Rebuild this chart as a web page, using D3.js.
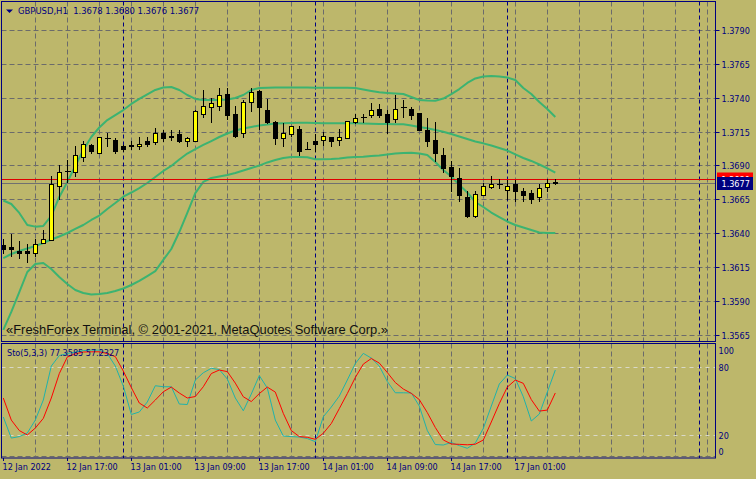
<!DOCTYPE html>
<html><head><meta charset="utf-8">
<script src="https://cdn.jsdelivr.net/npm/d3@7/dist/d3.min.js"></script>
<style>
html,body{margin:0;padding:0;background:#BDB76B;}
svg{display:block;}
text{font-family:"DejaVu Sans Condensed","DejaVu Sans",sans-serif;font-stretch:condensed;}
</style></head><body>
<svg id="chart" width="756" height="479"></svg>
<script>
// ---------------- DATA ----------------
const symbolTitle = "GBPUSD,H1";
const lastOHLC = [1.3678, 1.3680, 1.3676, 1.3677];
const bidPrice = 1.3677;
const askPrice = 1.3680;

const openP = [
1.3631,1.3630,1.3627,1.3627,1.3625,1.3633,1.3635,1.3675,1.3686,1.3685,
1.3696,1.3705,1.3699,1.3710,1.3709,1.3704,1.3705,1.3704,1.3708,1.3707,
1.3714,1.3712,1.3713,1.3708,1.3708,1.3728,1.3733,1.3734,1.3743,1.3728,
1.3714,1.3737,1.3745,1.3731,1.3722,1.3710,1.3713,1.3717,1.3702,1.3708,
1.3709,1.3711,1.3709,1.3710,1.3722,1.3726,1.3727,1.3732,1.3728,1.3724,
1.3733,1.3732,1.3729,1.3716,1.3709,1.3698,1.3689,1.3681,1.3667,1.3653,
1.3668,1.3674,1.3676,1.3672,1.3676,1.3671,1.3670,1.3667,1.3674,1.3678];
const highP = [
1.3636,1.3639,1.3634,1.3632,1.3636,1.3642,1.3682,1.3690,1.3694,1.3704,
1.3708,1.3706,1.3711,1.3714,1.3710,1.3705,1.3708,1.3711,1.3711,1.3718,
1.3716,1.3716,1.3716,1.3711,1.3731,1.3746,1.3740,1.3747,1.3747,1.3734,
1.3738,1.3747,1.3746,1.3739,1.3723,1.3721,1.3719,1.3719,1.3707,1.3713,
1.3715,1.3711,1.3717,1.3723,1.3728,1.3728,1.3736,1.3735,1.3731,1.3742,
1.3738,1.3733,1.3729,1.3725,1.3722,1.3703,1.3693,1.3688,1.3671,1.3671,
1.3677,1.3682,1.3680,1.3679,1.3679,1.3673,1.3672,1.3676,1.3680,1.3680];
const lowP = [
1.3625,1.3623,1.3622,1.3619,1.3623,1.3633,1.3635,1.3665,1.3678,1.3682,
1.3693,1.3699,1.3699,1.3704,1.3699,1.3701,1.3702,1.3702,1.3704,1.3706,
1.3708,1.3709,1.3707,1.3704,1.3708,1.3726,1.3722,1.3731,1.3724,1.3711,
1.3711,1.3730,1.3717,1.3721,1.3706,1.3704,1.3712,1.3698,1.3702,1.3701,
1.3705,1.3704,1.3705,1.3710,1.3721,1.3722,1.3726,1.3726,1.3714,1.3722,
1.3726,1.3724,1.3716,1.3704,1.3693,1.3685,1.3671,1.3664,1.3652,1.3652,
1.3668,1.3673,1.3673,1.3665,1.3664,1.3664,1.3662,1.3664,1.3671,1.3676];
const closeP = [
1.3628,1.3628,1.3625,1.3625,1.3632,1.3636,1.3676,1.3685,1.3686,1.3698,
1.3706,1.3701,1.3711,1.3710,1.3701,1.3702,1.3704,1.3706,1.3706,1.3714,
1.3710,1.3711,1.3708,1.3710,1.3730,1.3734,1.3736,1.3742,1.3727,1.3712,
1.3737,1.3744,1.3733,1.3722,1.3710,1.3714,1.3719,1.3701,1.3702,1.3706,
1.3712,1.3708,1.3711,1.3723,1.3725,1.3726,1.3731,1.3727,1.3722,1.3732,
1.3733,1.3727,1.3716,1.3708,1.3699,1.3688,1.3682,1.3668,1.3653,1.3669,
1.3675,1.3676,1.3676,1.3675,1.3671,1.3668,1.3665,1.3673,1.3677,1.3677];

const bbUpper = [
1.36641,1.36615,1.36549,1.36460,1.36448,1.36453,1.36527,1.36667,1.36778,1.36896,
1.37014,1.37110,1.37180,1.37235,1.37272,1.37309,1.37354,1.37391,1.37424,1.37457,
1.37475,1.37479,1.37457,1.37420,1.37391,1.37383,1.37383,1.37383,1.37387,1.37398,
1.37420,1.37457,1.37472,1.37474,1.37475,1.37475,1.37476,1.37476,1.37475,1.37474,
1.37474,1.37474,1.37473,1.37473,1.37472,1.37461,1.37450,1.37440,1.37435,1.37431,
1.37427,1.37405,1.37383,1.37379,1.37378,1.37394,1.37427,1.37464,1.37509,1.37542,
1.37557,1.37560,1.37557,1.37549,1.37531,1.37472,1.37427,1.37368,1.37317,1.37258];
const bbMiddle = [
1.36216,1.36246,1.36268,1.36287,1.36305,1.36327,1.36353,1.36375,1.36401,1.36431,
1.36460,1.36497,1.36530,1.36578,1.36622,1.36669,1.36700,1.36733,1.36770,1.36815,
1.36859,1.36896,1.36944,1.36988,1.37021,1.37051,1.37080,1.37110,1.37136,1.37158,
1.37173,1.37184,1.37195,1.37202,1.37210,1.37212,1.37213,1.37215,1.37215,1.37213,
1.37211,1.37211,1.37211,1.37211,1.37211,1.37210,1.37208,1.37206,1.37206,1.37204,
1.37204,1.37195,1.37184,1.37174,1.37162,1.37149,1.37132,1.37114,1.37095,1.37077,
1.37063,1.37047,1.37029,1.37010,1.36981,1.36955,1.36933,1.36907,1.36879,1.36846];
const bbLower = [
1.35685,1.35818,1.35965,1.36113,1.36172,1.36179,1.36135,1.36076,1.36024,1.35980,
1.35958,1.35947,1.35951,1.35958,1.35973,1.35991,1.36017,1.36047,1.36083,1.36120,
1.36202,1.36283,1.36408,1.36549,1.36696,1.36778,1.36807,1.36818,1.36829,1.36844,
1.36862,1.36881,1.36899,1.36922,1.36940,1.36955,1.36962,1.36962,1.36961,1.36945,
1.36946,1.36947,1.36951,1.36959,1.36962,1.36964,1.36970,1.36973,1.36981,1.36988,
1.36992,1.36994,1.36988,1.36977,1.36925,1.36866,1.36818,1.36755,1.36700,1.36630,
1.36593,1.36552,1.36519,1.36486,1.36460,1.36442,1.36423,1.36405,1.36401,1.36401];

const stochMain = [
36.1,17.6,18.9,22.0,33.4,51.0,80.9,90.1,91.9,93.2,
94.5,94.9,94.9,91.9,80.9,63.3,38.3,40.5,49.3,63.6,
62.7,62.7,47.5,47.1,68.6,75.0,78.9,77.8,69.5,52.8,
41.6,56.3,72.5,61.6,33.4,19.4,18.9,18.5,17.2,14.4,
36.3,44.9,54.5,68.6,83.1,92.0,87.9,80.9,67.3,57.4,
57.4,57.2,45.7,24.2,11.9,11.5,13.7,11.0,8.6,13.2,
26.1,45.7,65.1,73.0,69.9,53.9,32.6,38.7,58.0,77.3585];
const stochSignal = [
52.8,33.4,24.2,20.3,26.4,34.9,52.8,74.3,88.8,91.6,
93.2,93.4,93.4,91.9,89.2,76.5,62.0,48.4,44.0,51.0,
58.3,62.4,57.2,52.8,54.1,62.7,74.3,77.4,76.0,65.9,
53.9,49.7,56.7,62.4,58.0,39.3,24.2,18.9,18.3,16.5,
21.8,30.4,43.5,56.7,70.8,82.6,87.5,83.5,75.2,66.4,
60.7,56.9,51.4,40.0,26.9,15.9,12.4,12.1,11.7,12.2,
15.9,31.7,47.9,62.4,68.6,65.7,51.4,41.3,42.2,57.2327];
const stochTitle = "Sto(5,3,3)";

const priceTicks = [1.3565,1.3590,1.3615,1.3640,1.3665,1.3690,1.3715,1.3740,1.3765,1.3790];
const stochLevels = [80, 20];
const stochTickLabels = [100, 80, 20, 0];
const timeLabels = ["12 Jan 2022","12 Jan 17:00","13 Jan 01:00","13 Jan 09:00","13 Jan 17:00","14 Jan 01:00","14 Jan 09:00","14 Jan 17:00","17 Jan 01:00"];
const timeLabelBars = [0, 8, 16, 24, 32, 40, 48, 56, 64];
const daySeparatorBars = [15, 39, 63, 87];
const gridBarStep = 4;
const totalGridBars = 88;
const watermark = "\u00abFreshForex Terminal, \u00a9 2001-2021, MetaQuotes Software Corp.\u00bb";

// ---------------- LAYOUT ----------------
const W = 756, H = 479;
const L = 1.5, R = 715.5, mainTop = 1.5, mainBot = 341.5, subTop = 343.5, subBot = 458;
const navy = "#000080", gridCol = "#6b6b6b", bg = "#BDB76B";
const bandCol = "#3cb371", bullCol = "#ffff00";

const svg = d3.select("#chart");
svg.append("rect").attr("width", W).attr("height", H).attr("fill", bg);

const x = d3.scaleLinear().domain([0, 69]).range([3.3, 555.3]);
const px = k => Math.round(x(k)) + 0.5;
const y = d3.scaleLinear().domain([1.3565, 1.3790]).range([334.7, 30]);
const ys = d3.scaleLinear().domain([0, 100]).range([458.1, 344.3]);
const py = v => Math.round(y(v)) + 0.5;

const defs = svg.append("defs");
defs.append("clipPath").attr("id","clipMain").append("rect")
  .attr("x", L).attr("y", mainTop).attr("width", R - L).attr("height", mainBot - mainTop);
defs.append("clipPath").attr("id","clipSub").append("rect")
  .attr("x", L).attr("y", subTop).attr("width", R - L).attr("height", subBot - subTop);

// ---- grid ----
const grid = svg.append("g");
grid.selectAll(".hg").data(priceTicks).join("line")
  .attr("x1", L).attr("x2", R).attr("y1", d => py(d)).attr("y2", d => py(d))
  .attr("stroke", gridCol).attr("stroke-dasharray", "5,3");
const vBars = d3.range(gridBarStep, totalGridBars + 1, gridBarStep);
[[mainTop, mainBot], [subTop, subBot - 1]].forEach(([t, b]) => {
  grid.selectAll(null).data(vBars).join("line")
    .attr("x1", d => px(d)).attr("x2", d => px(d)).attr("y1", t).attr("y2", b)
    .attr("stroke", gridCol).attr("stroke-dasharray", "5,3");
});
grid.selectAll(".sl").data(stochLevels).join("line")
  .attr("x1", L).attr("x2", R).attr("y1", d => Math.round(ys(d)) + 0.5).attr("y2", d => Math.round(ys(d)) + 0.5)
  .attr("stroke", "#d8d8c8").attr("stroke-dasharray", "4,4");
grid.append("line").attr("x1", L).attr("x2", R).attr("y1", subBot - 1.5).attr("y2", subBot - 1.5)
  .attr("stroke", gridCol).attr("stroke-dasharray", "5,3");
[[mainTop, mainBot], [subTop, subBot]].forEach(([t, b]) => {
  grid.selectAll(null).data(daySeparatorBars).join("line")
    .attr("x1", d => px(d)).attr("x2", d => px(d)).attr("y1", t).attr("y2", b)
    .attr("stroke", navy).attr("stroke-dasharray", "4,3");
});

// ---- Bollinger bands ----
const gm = svg.append("g").attr("clip-path", "url(#clipMain)");
const bandLine = d3.line().x((d, i) => x(i)).y(d => y(d));
[bbUpper, bbMiddle, bbLower].forEach(arr => {
  gm.append("path").attr("d", bandLine(arr)).attr("fill", "none")
    .attr("stroke", bandCol).attr("stroke-width", 2).attr("stroke-linejoin", "round");
});

// ---- bid / ask lines ----
gm.append("line").attr("x1", L).attr("x2", R).attr("y1", py(askPrice)).attr("y2", py(askPrice))
  .attr("stroke", "#e00000");
gm.append("line").attr("x1", L).attr("x2", R).attr("y1", py(bidPrice)).attr("y2", py(bidPrice))
  .attr("stroke", "#707070");

// ---- candles ----
const bars = openP.map((o, i) => ({i, o, h: highP[i], l: lowP[i], c: closeP[i]}));
const cg = gm.append("g");
cg.selectAll(".wick").data(bars).join("line")
  .attr("x1", d => px(d.i)).attr("x2", d => px(d.i))
  .attr("y1", d => Math.round(y(d.h))).attr("y2", d => Math.round(y(d.l)) + 1)
  .attr("stroke", "#000");
cg.selectAll(".body").data(bars.filter(d => d.o !== d.c)).join("rect")
  .attr("x", d => px(d.i) - 2).attr("width", 4)
  .attr("y", d => py(Math.max(d.o, d.c)))
  .attr("height", d => Math.max(1, py(Math.min(d.o, d.c)) - py(Math.max(d.o, d.c))))
  .attr("fill", d => d.c > d.o ? bullCol : "#000").attr("stroke", "#000");
cg.selectAll(".doji").data(bars.filter(d => d.o === d.c)).join("line")
  .attr("x1", d => px(d.i) - 2.5).attr("x2", d => px(d.i) + 3.5)
  .attr("y1", d => py(d.o)).attr("y2", d => py(d.o)).attr("stroke", "#000");

// ---- watermark ----
svg.append("text").attr("x", 6).attr("y", 334).text(watermark)
  .style("font-family", "'Liberation Sans', Arial, sans-serif").style("font-stretch", "normal")
  .attr("font-size", 13).attr("fill", "#111")
  .attr("textLength", 382).attr("lengthAdjust", "spacingAndGlyphs");

// ---- stochastic ----
const gs = svg.append("g").attr("clip-path", "url(#clipSub)");
const stLine = d3.line().x((d, i) => x(i)).y(d => ys(d));
gs.append("path").attr("d", stLine(stochMain)).attr("fill", "none").attr("stroke", "#20b2aa").attr("stroke-width", 1);
gs.append("path").attr("d", stLine(stochSignal)).attr("fill", "none").attr("stroke", "#ff0000").attr("stroke-width", 1);

// ---- frames ----
const fr = svg.append("g").attr("fill", "none").attr("stroke", navy);
fr.append("rect").attr("x", L).attr("y", mainTop).attr("width", R - L).attr("height", mainBot - mainTop);
fr.append("rect").attr("x", L).attr("y", subTop).attr("width", R - L).attr("height", subBot - subTop);

// ---- price axis ----
const fmt4 = d3.format(".4f");
const yAxis = d3.axisRight(y).tickValues(priceTicks).tickFormat(fmt4).tickSize(4).tickPadding(2);
const ya = svg.append("g").attr("transform", `translate(${R},0)`).call(yAxis);
ya.select(".domain").remove();
ya.selectAll(".tick").attr("transform", d => `translate(0,${py(d)})`);
ya.selectAll(".tick line").attr("stroke", navy);
ya.selectAll(".tick text").attr("fill", navy).attr("font-size", 9).attr("dy", "0.42em")
  .style("font-family", "'DejaVu Sans Condensed','DejaVu Sans',sans-serif");

// ask / bid labels (ask label sits partly under the bid label, only its top strip shows)
const askY = py(askPrice), bidY = py(bidPrice);
defs.append("clipPath").attr("id", "clipAsk").append("rect")
  .attr("x", 716).attr("y", askY - 7).attr("width", 40).attr("height", (bidY - 6.5) - (askY - 7));
svg.append("rect").attr("x", 717).attr("y", askY - 7).attr("width", 36).attr("height", 13).attr("fill", "#ff0000");
svg.append("text").attr("x", 721.5).attr("y", askY + 3.5).text(fmt4(askPrice))
  .attr("clip-path", "url(#clipAsk)").attr("fill", "#fff").attr("font-size", 9);
svg.append("rect").attr("x", 717).attr("y", bidY - 6.5).attr("width", 36).attr("height", 13).attr("fill", "#00007f");
svg.append("text").attr("x", 721.5).attr("y", bidY + 3.5).text(fmt4(bidPrice))
  .attr("fill", "#fff").attr("font-size", 9);

// ---- stochastic axis labels ----
const sa = svg.append("g");
sa.selectAll("text").data(stochTickLabels).join("text")
  .attr("x", 718.5)
  .attr("y", d => Math.min(Math.max(ys(d), 350.5), 451) + 3.5)
  .text(d => d).attr("fill", navy).attr("font-size", 9);

// ---- time axis ----
const xAxis = d3.axisBottom(x).tickValues(timeLabelBars)
  .tickFormat(d => timeLabels[timeLabelBars.indexOf(d)]).tickSize(3).tickPadding(3);
const xa = svg.append("g").attr("transform", `translate(0,${subBot})`).call(xAxis);
xa.select(".domain").remove();
xa.selectAll(".tick").attr("transform", d => `translate(${px(d)},0)`);
xa.selectAll(".tick line").attr("stroke", navy);
xa.selectAll(".tick text").attr("fill", navy).attr("font-size", 9)
  .attr("text-anchor", "start").attr("dx", -1)
  .style("font-family", "'DejaVu Sans Condensed','DejaVu Sans',sans-serif");

// ---- titles ----
svg.append("path").attr("d", "M6,9.5 L13,9.5 L9.5,13 Z").attr("fill", navy);
svg.append("text").attr("x", 18).attr("y", 13.5).attr("fill", navy).attr("font-size", 9.4)
  .style("white-space", "pre")
  .text(symbolTitle + "  " + lastOHLC.map(fmt4).join(" "));
svg.append("text").attr("x", 7).attr("y", 356).attr("fill", navy).attr("font-size", 9)
  .text(`${stochTitle} ${d3.format(".4f")(stochMain[stochMain.length - 1])} ${d3.format(".4f")(stochSignal[stochSignal.length - 1])}`);
</script>
</body></html>
